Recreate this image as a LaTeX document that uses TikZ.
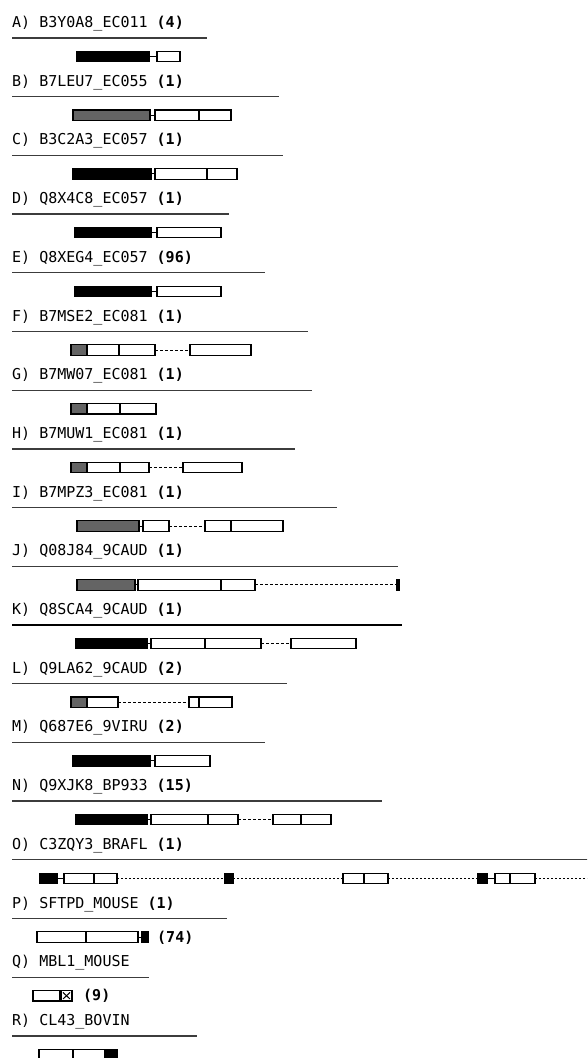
\documentclass[tikz,border=0pt]{standalone}
\usepackage{fontspec}
\setmonofont{DejaVu Sans Mono}
\definecolor{boxgray}{RGB}{100,100,100}
\definecolor{sepgray}{RGB}{60,60,60}
\newcommand\bx[5]{\node[#2, minimum width={#4pt-#3pt}, anchor=west] (#1) at (#3,#5) {};}
\begin{document}
\begin{tikzpicture}[x=1pt,y=-1pt,
  box/.style={draw=black, line width=1.1pt, inner sep=0pt, outer sep=0pt, minimum height=10.5pt},
  wbox/.style={box, fill=white},
  kbox/.style={box, fill=black},
  gbox/.style={box, fill=boxgray},
  lbl/.style={anchor=base west, inner sep=0pt, font=\ttfamily\fontsize{15}{18}\selectfont},
  sepline/.style={line width=1.3pt, draw=sepgray},
  link/.style={line width=1pt},
  gapline/.style={line width=1pt, dash pattern=on 3pt off 2pt},
  dotline/.style={line width=1pt, dash pattern=on 2pt off 2pt},
  divline/.style={line width=1.8pt}]
\clip (0,0) rectangle (587,1058);
\fill[white] (0,0) rectangle (587,1058);
% A
\node[lbl] (tA) at (12,27.5) {A) B3Y0A8\_EC011 \textbf{(4)}};
\draw[sepline] (12,38) -- (207,38);
\bx{a1}{kbox}{77}{149}{56.5}
\bx{a2}{wbox}{157}{180}{56.5}
\draw[link] (a1.east) -- (a2.west);
% B
\node[lbl] (tB) at (12,86.2) {B) B7LEU7\_EC055 \textbf{(1)}};
\draw[sepline] (12,96.7) -- (279,96.7);
\bx{b1}{gbox}{73}{150}{115.2}
\bx{b2}{wbox}{155}{199}{115.2}
\bx{b3}{wbox}{199}{231}{115.2}
\draw[link] (b1.east) -- (b2.west);
% C
\node[lbl] (tC) at (12,144.9) {C) B3C2A3\_EC057 \textbf{(1)}};
\draw[sepline] (12,155.4) -- (283,155.4);
\bx{c1}{kbox}{73}{151}{173.9}
\bx{c2}{wbox}{155}{207}{173.9}
\bx{c3}{wbox}{207}{237}{173.9}
\draw[link] (c1.east) -- (c2.west);
% D
\node[lbl] (tD) at (12,203.6) {D) Q8X4C8\_EC057 \textbf{(1)}};
\draw[sepline] (12,214.1) -- (229,214.1);
\bx{d1}{kbox}{75}{151}{232.6}
\bx{d2}{wbox}{157}{221}{232.6}
\draw[link] (d1.east) -- (d2.west);
% E
\node[lbl] (tE) at (12,262.3) {E) Q8XEG4\_EC057 \textbf{(96)}};
\draw[sepline] (12,272.8) -- (265,272.8);
\bx{e1}{kbox}{75}{151}{291.3}
\bx{e2}{wbox}{157}{221}{291.3}
\draw[link] (e1.east) -- (e2.west);
% F
\node[lbl] (tF) at (12,321) {F) B7MSE2\_EC081 \textbf{(1)}};
\draw[sepline] (12,331.5) -- (308,331.5);
\bx{f1}{gbox}{71}{87}{350}
\bx{f2}{wbox}{87}{119}{350}
\bx{f3}{wbox}{119}{155}{350}
\bx{f4}{wbox}{190}{251}{350}
\draw[divline] (f2.north west) -- (f2.south west) (f2.north east) -- (f2.south east);
\draw[gapline] (f3.east) -- (f4.west);
% G
\node[lbl] (tG) at (12,379.7) {G) B7MW07\_EC081 \textbf{(1)}};
\draw[sepline] (12,390.2) -- (312,390.2);
\bx{g1}{gbox}{71}{87}{408.7}
\bx{g2}{wbox}{87}{120}{408.7}
\bx{g3}{wbox}{120}{156}{408.7}
\draw[divline] (g2.north west) -- (g2.south west) (g2.north east) -- (g2.south east);
% H
\node[lbl] (tH) at (12,438.4) {H) B7MUW1\_EC081 \textbf{(1)}};
\draw[sepline] (12,448.9) -- (295,448.9);
\bx{h1}{gbox}{71}{87}{467.4}
\bx{h2}{wbox}{87}{120}{467.4}
\bx{h3}{wbox}{120}{149}{467.4}
\bx{h4}{wbox}{183}{242}{467.4}
\draw[divline] (h2.north west) -- (h2.south west) (h2.north east) -- (h2.south east);
\draw[gapline] (h3.east) -- (h4.west);
% I
\node[lbl] (tI) at (12,497.1) {I) B7MPZ3\_EC081 \textbf{(1)}};
\draw[sepline] (12,507.6) -- (337,507.6);
\bx{i1}{gbox}{77}{139}{526.1}
\bx{i2}{wbox}{143}{169}{526.1}
\bx{i3}{wbox}{205}{231}{526.1}
\bx{i4}{wbox}{231}{283}{526.1}
\draw[link] (i1.east) -- (i2.west);
\draw[gapline] (i2.east) -- (i3.west);
% J
\node[lbl] (tJ) at (12,555.8) {J) Q08J84\_9CAUD \textbf{(1)}};
\draw[sepline] (12,566.3) -- (398,566.3);
\bx{j1}{gbox}{77}{135}{584.8}
\bx{j2}{wbox}{138}{221}{584.8}
\bx{j3}{wbox}{221}{255}{584.8}
\bx{j4}{kbox}{397}{399}{584.8}
\draw[link] (j1.east) -- (j2.west);
\draw[gapline] (j3.east) -- (j4.west);
% K
\node[lbl] (tK) at (12,614.5) {K) Q8SCA4\_9CAUD \textbf{(1)}};
\draw[sepline, line width=2pt, draw=black] (12,625) -- (402,625);
\bx{k1}{kbox}{76}{147}{643.5}
\bx{k2}{wbox}{151}{205}{643.5}
\bx{k3}{wbox}{205}{261}{643.5}
\bx{k4}{wbox}{291}{356}{643.5}
\draw[link] (k1.east) -- (k2.west);
\draw[gapline] (k3.east) -- (k4.west);
% L
\node[lbl] (tL) at (12,673.2) {L) Q9LA62\_9CAUD \textbf{(2)}};
\draw[sepline] (12,683.7) -- (287,683.7);
\bx{l1}{gbox}{71}{87}{702.2}
\bx{l2}{wbox}{87}{118}{702.2}
\bx{l3}{wbox}{189}{199}{702.2}
\bx{l4}{wbox}{199}{232}{702.2}
\draw[gapline] (l2.east) -- (l3.west);
% M
\node[lbl] (tM) at (12,731.9) {M) Q687E6\_9VIRU \textbf{(2)}};
\draw[sepline] (12,742.4) -- (265,742.4);
\bx{m1}{kbox}{73}{150}{760.9}
\bx{m2}{wbox}{155}{210}{760.9}
\draw[link] (m1.east) -- (m2.west);
% N
\node[lbl] (tN) at (12,790.6) {N) Q9XJK8\_BP933 \textbf{(15)}};
\draw[sepline] (12,801.1) -- (382,801.1);
\bx{n1}{kbox}{76}{147}{819.6}
\bx{n2}{wbox}{151}{208}{819.6}
\bx{n3}{wbox}{208}{238}{819.6}
\bx{n4}{wbox}{273}{301}{819.6}
\bx{n5}{wbox}{301}{331}{819.6}
\draw[link] (n1.east) -- (n2.west);
\draw[gapline] (n3.east) -- (n4.west);
% O
\node[lbl] (tO) at (12,849.3) {O) C3ZQY3\_BRAFL \textbf{(1)}};
\draw[sepline] (12,859.8) -- (590,859.8);
\bx{o1}{kbox}{40}{57}{878.3}
\bx{o2}{wbox}{64}{94}{878.3}
\bx{o3}{wbox}{94}{117}{878.3}
\bx{o4}{kbox}{225}{233}{878.3}
\bx{o5}{wbox}{343}{364}{878.3}
\bx{o6}{wbox}{364}{388}{878.3}
\bx{o7}{kbox}{478}{487}{878.3}
\bx{o8}{wbox}{495}{510}{878.3}
\bx{o9}{wbox}{510}{535}{878.3}
\coordinate (oend) at (592,878.3);
\draw[link] (o1.east) -- (o2.west);
\draw[dotline] (o3.east) -- (o4.west);
\draw[dotline] (o4.east) -- (o5.west);
\draw[dotline] (o6.east) -- (o7.west);
\draw[link] (o7.east) -- (o8.west);
\draw[dotline] (o9.east) -- (oend);
% P
\node[lbl] (tP) at (12,908) {P) SFTPD\_MOUSE \textbf{(1)}};
\draw[sepline] (12,918.5) -- (227,918.5);
\bx{p1}{wbox}{37}{86}{937}
\bx{p2}{wbox}{86}{138}{937}
\bx{p3}{kbox}{142}{148}{937}
\draw[link] (p2.east) -- (p3.west);
\node[lbl] (cP) at (157,942) {\textbf{(74)}};
% Q
\node[lbl] (tQ) at (12,966.7) {Q) MBL1\_MOUSE};
\draw[sepline] (12,977.2) -- (149,977.2);
\bx{q1}{wbox}{33}{60}{995.7}
\bx{q2}{wbox}{61}{72}{995.7}
\draw[line width=1pt] ([shift={(2,2)}]q2.north west) -- ([shift={(-2,-2)}]q2.south east)
  ([shift={(-2,2)}]q2.north east) -- ([shift={(2,-2)}]q2.south west);
\node[lbl] (cQ) at (83,1000.7) {\textbf{(9)}};
% R
\node[lbl] (tR) at (12,1025.4) {R) CL43\_BOVIN};
\draw[sepline] (12,1035.9) -- (197,1035.9);
\bx{r1}{wbox}{39}{73}{1054.4}
\bx{r2}{wbox}{73}{105}{1054.4}
\bx{r3}{kbox}{105}{117}{1054.4}
\end{tikzpicture}
\end{document}
